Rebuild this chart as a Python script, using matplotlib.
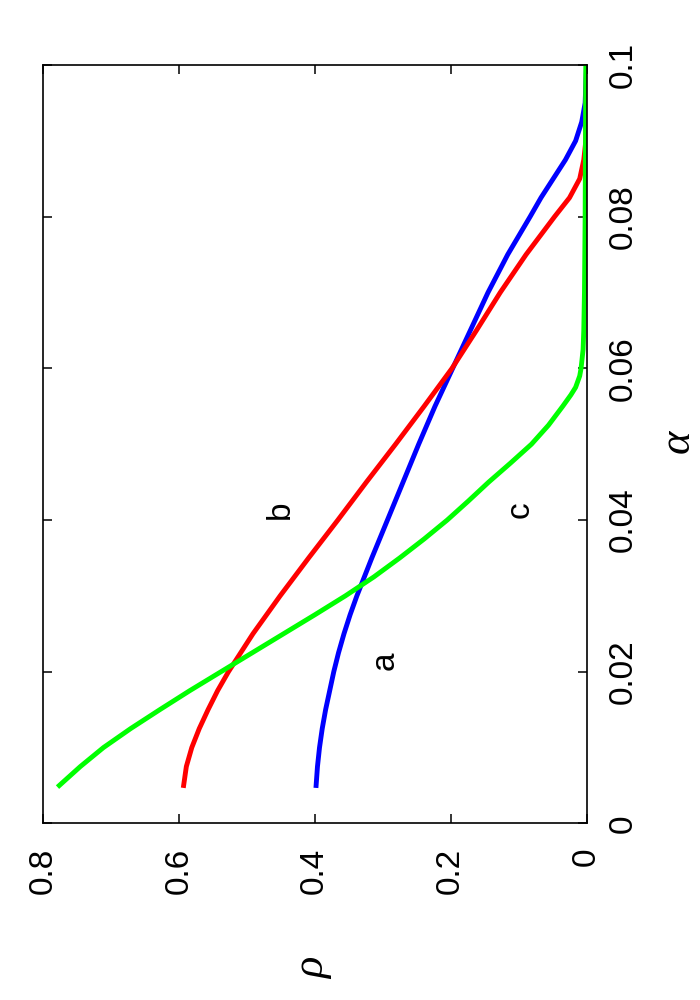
import numpy as np
import matplotlib
matplotlib.use('Agg')
import matplotlib.pyplot as plt

# alpha values (vertical axis in the rotated figure)
alpha_a = [0.005, 0.0075, 0.01, 0.0125, 0.015, 0.0175, 0.02, 0.0225, 0.025, 0.0275,
           0.03, 0.035, 0.04, 0.045, 0.05, 0.055, 0.06, 0.065, 0.07, 0.075,
           0.08, 0.0825, 0.085, 0.0875, 0.09, 0.0925, 0.095, 0.1]
rho_a = [0.398, 0.396, 0.393, 0.389, 0.384, 0.378, 0.372, 0.365, 0.357, 0.348,
         0.338, 0.316, 0.293, 0.270, 0.247, 0.223, 0.197, 0.171, 0.145, 0.116,
         0.083, 0.067, 0.049, 0.031, 0.016, 0.007, 0.002, 0.0]

alpha_b = [0.005, 0.0075, 0.01, 0.0125, 0.015, 0.0175, 0.02, 0.025, 0.03, 0.035,
           0.04, 0.045, 0.05, 0.055, 0.06, 0.065, 0.07, 0.075, 0.08, 0.0825,
           0.085, 0.0875, 0.09, 0.1]
rho_b = [0.593, 0.589, 0.581, 0.570, 0.557, 0.543, 0.527, 0.491, 0.451, 0.409,
         0.366, 0.324, 0.281, 0.239, 0.198, 0.162, 0.127, 0.089, 0.047, 0.025,
         0.010, 0.004, 0.001, 0.0]

alpha_c = [0.005, 0.0075, 0.01, 0.0125, 0.015, 0.0175, 0.02, 0.0225, 0.025, 0.0275,
           0.03, 0.0325, 0.035, 0.0375, 0.04, 0.0425, 0.045, 0.0475, 0.05, 0.0525,
           0.055, 0.0565, 0.0575, 0.059, 0.06, 0.0625, 0.065, 0.07, 0.08, 0.09, 0.1]
rho_c = [0.776, 0.745, 0.711, 0.671, 0.628, 0.584, 0.538, 0.492, 0.446, 0.400,
         0.355, 0.313, 0.275, 0.239, 0.205, 0.174, 0.144, 0.112, 0.081, 0.056,
         0.035, 0.023, 0.016, 0.010, 0.008, 0.005, 0.004, 0.003, 0.002, 0.0015, 0.001]

rho_ticks = [0.8, 0.6, 0.4, 0.2, 0.0]
rho_ticklabels = ['0.8', '0.6', '0.4', '0.2', '0']
alpha_ticks = [0.0, 0.02, 0.04, 0.06, 0.08, 0.1]
alpha_ticklabels = ['0', '0.02', '0.04', '0.06', '0.08', '0.1']

# curve labels: (text, rho, alpha)
curve_labels = [('a', 0.297, 0.0214), ('b', 0.450, 0.0413), ('c', 0.0976, 0.0413)]

plt.rcParams['font.family'] = ['Liberation Sans', 'DejaVu Sans']

fig = plt.figure(figsize=(7, 10), dpi=100)
ax = fig.add_axes([43 / 700, 1 - 823.4 / 1000, (586.5 - 43) / 700, (823.4 - 65) / 1000])

# the whole chart is turned 90 degrees, so rho runs right to left
ax.plot(rho_a, alpha_a, color='#0000ff', lw=3.5, solid_joinstyle='round')
ax.plot(rho_b, alpha_b, color='#ff0000', lw=3.5, solid_joinstyle='round')
ax.plot(rho_c, alpha_c, color='#00ff00', lw=3.5, solid_joinstyle='round')

ax.set_xlim(0.8, 0.0)
ax.set_ylim(0.0, 0.1)

ax.set_xticks(rho_ticks)
ax.set_xticklabels(rho_ticklabels, rotation=90, fontsize=24, va='top', ha='center')
ax.set_yticks(alpha_ticks)
ax.set_yticklabels(alpha_ticklabels, rotation=90, fontsize=24, va='center', ha='left')

ax.tick_params(axis='both', direction='in', length=6.5, width=1.1,
               top=True, bottom=True, left=True, right=True)
ax.tick_params(axis='x', pad=17.5)
ax.tick_params(axis='y', labelleft=False, labelright=True, pad=15.5)

for s in ax.spines.values():
    s.set_linewidth(1.2)

for txt, r, a in curve_labels:
    ax.text(r, a, txt, rotation=90, fontsize=24, ha='center', va='center')

fig.text(678 / 700, 1 - 441 / 1000, 'α', rotation=90, fontsize=32,
         family='Liberation Serif', style='italic', ha='center', va='center')
fig.text(313 / 700, 1 - 968 / 1000, 'ρ', rotation=90, fontsize=32,
         family='Liberation Serif', style='italic', ha='center', va='center')

fig.savefig('out.png', dpi=100)
